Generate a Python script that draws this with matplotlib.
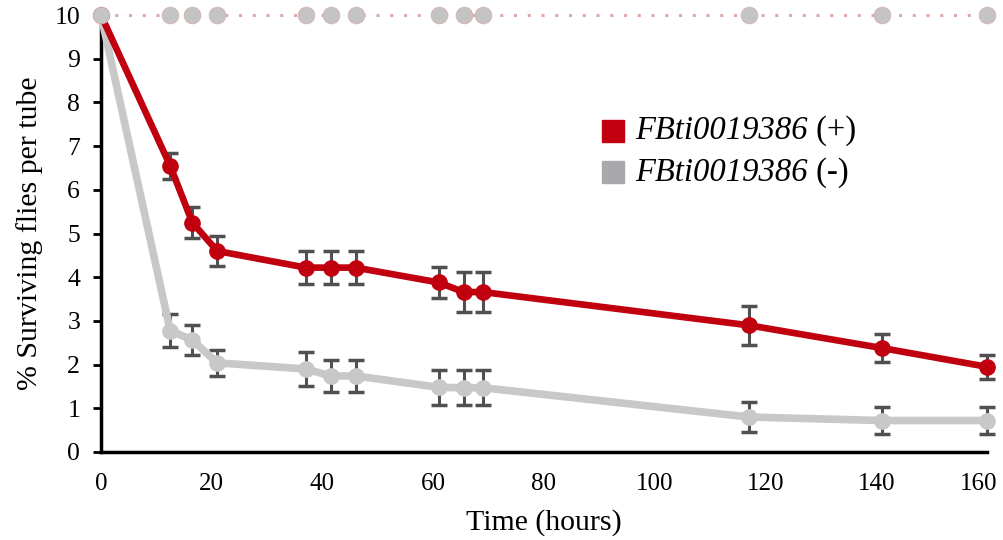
import matplotlib
matplotlib.use("Agg")
import matplotlib.pyplot as plt
import matplotlib.transforms as mtransforms
from matplotlib.lines import Line2D

plt.rcParams['font.family'] = ['Liberation Serif', 'DejaVu Serif']

time_h = [0, 12.5, 16.5, 21, 37, 41.5, 46, 61, 65.5, 69, 117, 141, 160]
plus_mean = [10, 6.55, 5.25, 4.6, 4.22, 4.22, 4.22, 3.88, 3.66, 3.66, 2.9, 2.38, 1.95]
plus_err = [0, 0.3, 0.35, 0.35, 0.38, 0.38, 0.38, 0.36, 0.45, 0.45, 0.45, 0.32, 0.28]
minus_mean = [10, 2.78, 2.56, 2.04, 1.9, 1.74, 1.74, 1.48, 1.47, 1.47, 0.8, 0.72, 0.72]
minus_err = [0, 0.37, 0.35, 0.3, 0.38, 0.37, 0.37, 0.4, 0.4, 0.4, 0.35, 0.3, 0.3]
control_mean = [10] * len(time_h)

legend_names = ['FBti0019386', 'FBti0019386']
legend_suffix = [' (+)', ' (-)']
x_ticks = [0, 20, 40, 60, 80, 100, 120, 140, 160]
y_ticks = list(range(0, 11))

RED = '#C0000F'
GRAY = '#C8C8C8'
LEG_GRAY = '#A9A9AD'
ERR = '#505050'

fig = plt.figure(figsize=(10.04, 5.4), dpi=100)
ax = fig.add_axes([0.1006, 0.163, 0.8824, 0.809])

ax.errorbar(time_h, minus_mean, yerr=minus_err, color=GRAY, lw=5.5,
            marker='o', ms=11, ecolor=ERR, elinewidth=2.2, capsize=6, capthick=2.5,
            zorder=3, clip_on=False)
ax.errorbar(time_h, plus_mean, yerr=plus_err, color=RED, lw=4.8,
            marker='o', ms=11, ecolor=ERR, elinewidth=2.2, capsize=6, capthick=2.5,
            zorder=4, clip_on=False)
ax.plot(time_h, control_mean, color='#E0A8A8', lw=2.2, ls=(0, (1, 3.5)),
        marker='o', ms=12, mfc='#C4C4C4', mec='#D8B0B0', mew=0.6,
        zorder=5, clip_on=False)

ax.set_xlim(0, 160)
ax.set_ylim(0, 10)
ax.set_xticks(x_ticks)
ax.set_yticks(y_ticks)
ax.tick_params(axis='x', length=0, labelsize=18, pad=15)
ax.tick_params(axis='y', direction='out', length=6, width=2, labelsize=18.5, pad=9)
for s in ['top', 'right']:
    ax.spines[s].set_visible(False)
for s in ['left', 'bottom']:
    ax.spines[s].set_linewidth(2.5)
    ax.spines[s].set_color('black')

ax.set_xlabel('Time (hours)', fontsize=21.5, labelpad=10)
ax.set_ylabel('% Surviving flies per tube', fontsize=21.5, labelpad=8)

fig.canvas.draw()
# keep last x tick label inside the canvas
last = ax.get_xticklabels()[-1]
last.set_transform(last.get_transform() +
                   mtransforms.ScaledTranslation(-8 / 100, 0, fig.dpi_scale_trans))

# custom legend with italic name + upright suffix
leg_colors = [RED, LEG_GRAY]
leg_y = [0.735, 0.64]
renderer = fig.canvas.get_renderer()
for name, suf, col, yy in zip(legend_names, legend_suffix, leg_colors, leg_y):
    ax.plot([0.578], [yy], transform=ax.transAxes, ls='none', marker='s', ms=16,
            mfc=col, mec=col, clip_on=False)
    t = ax.text(0.603, yy, name, transform=ax.transAxes, fontsize=23.5,
                style='italic', va='center', ha='left')
    bb = t.get_window_extent(renderer=renderer)
    x_end = ax.transAxes.inverted().transform((bb.x1, bb.y0))[0]
    ax.text(x_end, yy, suf, transform=ax.transAxes, fontsize=23.5,
            va='center', ha='left')

fig.savefig('out.png', dpi=100)
